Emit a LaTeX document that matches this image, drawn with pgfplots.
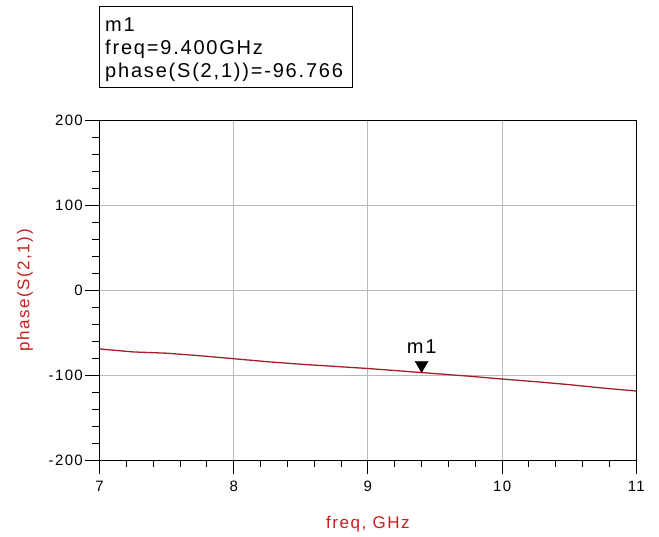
\documentclass[border=0pt]{standalone}
\usepackage{fontspec}
\setmainfont{Liberation Sans}[LetterSpace=9]
\usepackage{pgfplots}
\pgfplotsset{compat=1.18}
\definecolor{curvered}{RGB}{165, 30, 40}
\definecolor{labelred}{RGB}{200, 30, 30}
\definecolor{gridgray}{RGB}{185, 185, 185}

\begin{document}
\begin{tikzpicture}
\useasboundingbox (0,0) rectangle (659bp,537bp);
% marker readout box
\draw[line width=1bp] (99bp,530bp) rectangle (352bp,449bp);
\node[anchor=base west, inner sep=0pt, font=\fontsize{20bp}{23bp}\selectfont] at (105bp,505bp) {m1};
\node[anchor=base west, inner sep=0pt, font=\fontsize{20bp}{23bp}\selectfont] at (105bp,482bp) {freq=9.400GHz};
\node[anchor=base west, inner sep=0pt, font=\fontsize{20bp}{23bp}\selectfont] at (105bp,459bp) {phase(S(2,1))=-96.766};

\begin{axis}[
  at={(99.5bp,76.7bp)}, anchor=south west,
  scale only axis, width=536.8bp, height=340bp,
  xmin=7, xmax=11, ymin=-200, ymax=200,
  xtick={7,8,9,10,11}, ytick={-200,-100,0,100,200},
  minor x tick num=4, minor y tick num=4,
  xtick pos=lower, ytick pos=left,
  tick align=outside,
  major tick length=14bp, minor tick length=7bp,
  every tick/.style={black, line width=1bp},
  grid=major, grid style={gridgray, line width=1bp},
  axis line style={black, line width=1.2bp},
  /pgf/number format/assume math mode=true,
  tick label style={font=\fontsize{15bp}{18bp}\selectfont},
  xticklabel style={inner sep=0pt, yshift=-7bp},
  yticklabel style={inner sep=0pt, xshift=-2.5bp},
  xlabel={freq, GHz}, ylabel={phase(S(2,1))},
  label style={font=\fontsize{17bp}{20bp}\selectfont, color=labelred},
  xlabel style={at={(axis description cs:0.5,0)}, anchor=base, yshift=-68bp},
  ylabel style={at={(axis description cs:-0.1388,0.5)}, anchor=center},
  clip=false,
]
\addplot[color=curvered, line width=1.3bp] coordinates {
  (7.00,-69.0) (7.25,-72.5) (7.50,-74.0) (7.75,-77.0) (8.00,-80.5)
  (8.25,-84.0) (8.50,-87.0) (8.75,-89.5) (9.00,-92.0) (9.25,-95.0)
  (9.40,-96.766) (9.50,-98.0) (9.75,-101.0) (10.00,-104.4) (10.25,-107.5)
  (10.50,-111.0) (10.75,-115.0) (11.00,-118.5)
};
\addplot[only marks, mark=triangle*, mark size=7.5bp,
  mark options={yshift=7.5bp, rotate=180, fill=black, draw=black}]
  coordinates {(9.4,-96.766)};
\node[anchor=base, inner sep=0pt, font=\fontsize{20bp}{23bp}\selectfont]
  at (axis cs:9.4,-96.766) [yshift=19bp] {m1};
\end{axis}
\end{tikzpicture}
\end{document}
